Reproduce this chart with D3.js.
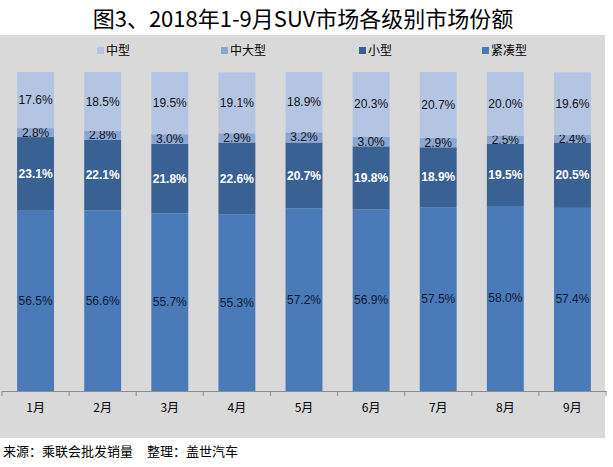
<!DOCTYPE html>
<html><head><meta charset="utf-8">
<script src="https://cdn.jsdelivr.net/npm/d3@7"></script>
<style>body{margin:0;background:#fff;}svg{display:block;font-family:"Noto Sans CJK SC","Noto Sans",sans-serif;}</style>
</head><body>
<svg id="c" width="613" height="467"></svg>
<script>
const months = ["1月","2月","3月","4月","5月","6月","7月","8月","9月"];
const seriesNames = ["紧凑型","小型","中大型","中型"];
const compact = [56.5,56.6,55.7,55.3,57.2,56.9,57.5,58.0,57.4];
const small = [23.1,22.1,21.8,22.6,20.7,19.8,18.9,19.5,20.5];
const midLarge = [2.8,2.8,3.0,2.9,3.2,3.0,2.9,2.5,2.4];
const mid = [17.6,18.5,19.5,19.1,18.9,20.3,20.7,20.0,19.6];
const legendOrder = ["中型","中大型","小型","紧凑型"];

const colors = {"紧凑型":"#4a7ab7","小型":"#3a6194","中大型":"#8aa6d3","中型":"#b4c5e4"};
const labelStyle = {"紧凑型":{fill:"#0d1b33",weight:"normal"},"小型":{fill:"#ffffff",weight:"bold"},"中大型":{fill:"#111",weight:"normal"},"中型":{fill:"#111",weight:"normal"}};
const valuesBy = {"紧凑型":compact,"小型":small,"中大型":midLarge,"中型":mid};

const rows = months.map((m,i)=>{const r={month:m};seriesNames.forEach(s=>r[s]=valuesBy[s][i]);return r;});
const stack = d3.stack().keys(seriesNames)(rows);

const svg = d3.select("#c");
svg.append("rect").attr("x",0).attr("y",35).attr("width",605).attr("height",403).attr("fill","#d9d9d9");

svg.append("text").attr("x",303).attr("y",27).attr("text-anchor","middle").attr("font-size",22).attr("fill","#000").text("图3、2018年1-9月SUV市场各级别市场份额");

const x = d3.scaleBand().domain(months).range([2,606]).paddingInner(0.45).paddingOuter(0.225);
const y = d3.scaleLinear().domain([0,100]).range([391,72]);

const g = svg.append("g");
stack.forEach(layer=>{
  const key = layer.key;
  g.selectAll(null).data(layer).enter().append("rect")
    .attr("x",d=>x(d.data.month)).attr("width",x.bandwidth())
    .attr("y",d=>y(d[1])).attr("height",d=>y(d[0])-y(d[1]))
    .attr("fill",colors[key]);
  g.selectAll(null).data(layer).enter().append("text")
    .attr("x",d=>x(d.data.month)+x.bandwidth()/2)
    .attr("y",d=>(y(d[0])+y(d[1]))/2+4)
    .attr("text-anchor","middle").attr("font-size",12)
    .attr("font-family","'Liberation Sans','Noto Sans',sans-serif")
    .attr("fill",labelStyle[key].fill).attr("font-weight",labelStyle[key].weight)
    .text(d=>(d.data[key]).toFixed(1)+"%");
});

// x axis
const axis = d3.axisBottom(x).tickSize(0).tickPadding(12);
const ag = svg.append("g").attr("transform","translate(0,391)").call(axis);
ag.select(".domain").attr("stroke","#8c8c8c");
ag.selectAll("text").attr("font-size",12).attr("fill","#000").attr("font-family","'Noto Sans CJK SC',sans-serif");
const step = x.step();
ag.selectAll(".btick").data(d3.range(months.length+1)).enter().append("line")
  .attr("x1",i=>x(months[0])-(step-x.bandwidth())/2+i*step).attr("x2",i=>x(months[0])-(step-x.bandwidth())/2+i*step)
  .attr("y1",0).attr("y2",5).attr("stroke","#8c8c8c");

// legend
const legX = {"中型":97,"中大型":221,"小型":359,"紧凑型":482};
const lg = svg.append("g");
legendOrder.forEach(k=>{
  lg.append("rect").attr("x",legX[k]).attr("y",47).attr("width",7).attr("height",7).attr("fill",colors[k]);
  lg.append("text").attr("x",legX[k]+9).attr("y",55).attr("font-size",12).attr("fill","#000").text(k);
});

svg.append("text").attr("x",3).attr("y",456).attr("font-size",13).attr("fill","#000").text("来源：乘联会批发销量");
svg.append("text").attr("x",147).attr("y",456).attr("font-size",13).attr("fill","#000").text("整理：盖世汽车");
</script>
</body></html>
